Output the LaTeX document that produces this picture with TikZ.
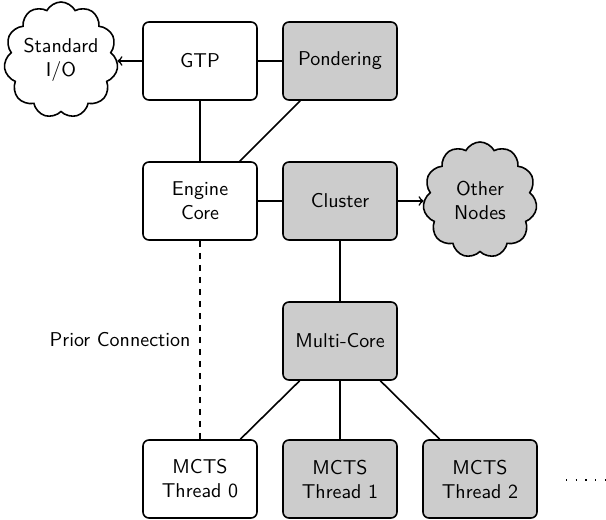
\documentclass[tikz,border=0pt]{standalone}
\usetikzlibrary{shapes.symbols,arrows}
\begin{document}
\begin{tikzpicture}[x=0.5pt,y=-0.5pt,
  font=\sffamily,
  every node/.style={align=center},
  blockbox/.style={draw,thick,rounded corners=3pt,minimum width=57pt,minimum height=39pt,inner sep=2pt},
  shaded/.style={fill=black!20},
  puffy/.style={draw,thick,miter limit=25,cloud,cloud puffs=11,cloud puff arc=125,cloud ignores aspect,minimum width=57pt,minimum height=58pt,inner sep=0pt},
  link/.style={thick},
  arrowlink/.style={thick,-to}]
\useasboundingbox (0,0) rectangle (606,520);

% upper row
\node[puffy] (stdio) at (61,60) {Standard\\I/O};
\node[blockbox] (gtp) at (200,61) {GTP};
\node[blockbox,shaded] (ponder) at (340,61) {Pondering};

% middle row
\node[blockbox] (core) at (200,201) {Engine\\Core};
\node[blockbox,shaded] (cluster) at (340,201) {Cluster};
\node[puffy,shaded] (others) at (480,200) {Other\\Nodes};

\node[blockbox,shaded] (multi) at (340,341) {Multi-Core};

% search threads
\node[blockbox] (t0) at (200,479) {MCTS\\Thread 0};
\node[blockbox,shaded] (t1) at (340,479) {MCTS\\Thread 1};
\node[blockbox,shaded] (t2) at (480,479) {MCTS\\Thread 2};
\coordinate (more) at (566,480);
\coordinate (moreend) at (610,480);

% connections
\draw[arrowlink] (gtp) -- (stdio.east |- gtp);
\draw[link] (gtp) -- (ponder);
\draw[link] (gtp) -- (core);
\draw[link] (ponder) -- (core);
\draw[link] (core) -- (cluster);
\draw[arrowlink] (cluster) -- (others.west |- cluster);
\draw[link] (cluster) -- (multi);
\draw[link] (multi) -- (t0);
\draw[link] (multi) -- (t1);
\draw[link] (multi) -- (t2);
\draw[thick,dashed] (core) -- node[left=1pt] (prior) {Prior Connection} (t0);
\draw[line width=0.6pt,dash pattern=on 0.6pt off 4.25pt] (more) -- (moreend);
\end{tikzpicture}
\end{document}
